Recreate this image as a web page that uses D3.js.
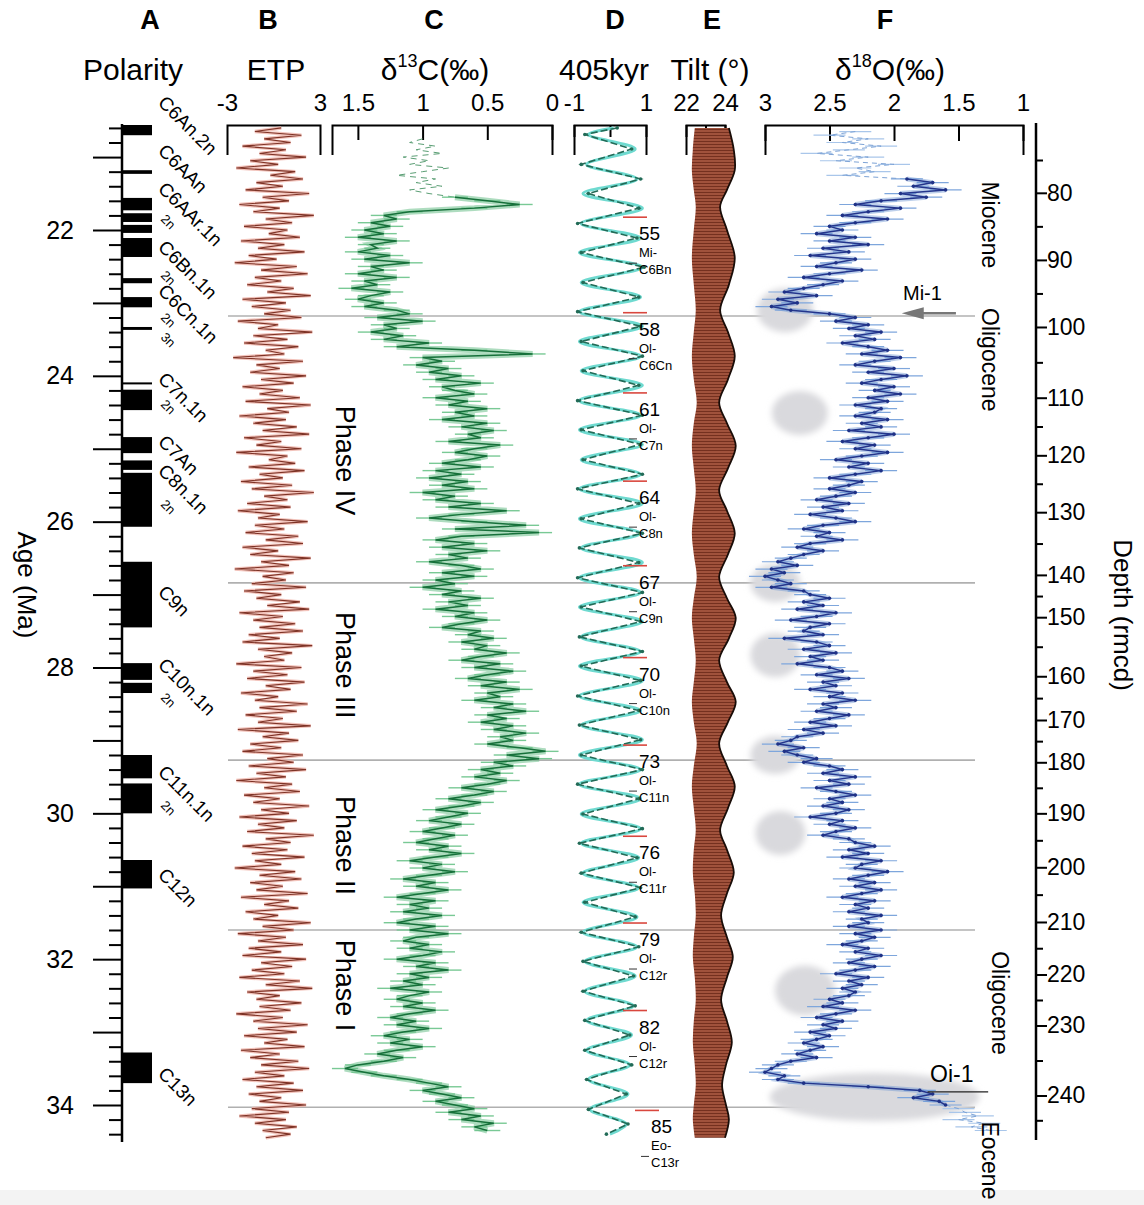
<!DOCTYPE html>
<html>
<head>
<meta charset="utf-8">
<script src="https://cdnjs.cloudflare.com/ajax/libs/d3/7.8.5/d3.min.js"></script>
<style>
body { margin: 0; background: #fff; }
svg text { font-family: "Liberation Sans", Arial, Helvetica, sans-serif; }
</style>
</head>
<body>
<div id="chart"></div>
<script>
// ---- data ----

// A: normal polarity intervals (Ma)
var polTop  = [20.56, 21.18, 21.56, 21.77, 21.93, 22.11, 22.66, 22.92, 23.33, 24.09, 24.19, 24.84, 25.16, 25.33, 26.55, 27.94, 28.21, 29.20, 29.59, 30.64, 33.28];
var polBase = [20.70, 21.23, 21.73, 21.89, 22.04, 22.37, 22.73, 23.06, 23.37, 24.11, 24.47, 25.06, 25.29, 26.07, 27.45, 28.17, 28.35, 29.52, 30.00, 31.03, 33.70];
var polLabels = ["C6An.2n", "C6AAn", "C6AAr.1n", "2n", "C6Bn.1n", "2n", "C6Cn.1n", "2n", "3n", "C7n.1n", "2n", "C7An", "C8n.1n", "2n", "C9n", "C10n.1n", "2n", "C11n.1n", "2n", "C12n", "C13n"];
var polLabelAges = [20.27, 20.93, 21.45, 21.86, 22.25, 22.63, 22.85, 23.21, 23.48, 24.06, 24.40, 24.92, 25.32, 25.77, 26.98, 27.98, 28.42, 29.45, 29.90, 30.86, 33.59];

// B: ETP, every 0.05 Ma from 20.60
var etpStart = 20.60, etpStep = 0.05;
var etp = [
  0.5,-1.2,1.8,-0.6,1.1,-2.0,0.8,-0.9,2.1,-1.5,0.3,-2.4,1.4,-0.2,1.9,-1.1,0.6,-1.8,2.3,-0.7,
  1.0,-2.2,0.4,-1.3,2.6,-0.5,1.2,-1.9,0.9,-0.3,1.7,-2.1,0.7,-1.0,2.0,-1.6,0.2,-2.5,1.5,-0.8,
  2.2,-1.2,0.5,-1.7,1.3,-0.4,2.4,-2.0,0.8,-1.4,1.1,-0.6,1.8,-2.3,0.3,-1.0,2.5,-1.3,0.9,-1.9,
  1.6,-0.5,0.7,-2.6,1.9,-1.1,0.4,-1.5,2.1,-0.8,1.3,-2.0,0.6,-0.9,1.7,-1.8,2.4,-0.4,1.0,-2.2,
  0.8,-1.3,1.5,-0.7,2.3,-1.9,0.5,-1.1,1.8,-2.4,0.9,-0.3,1.4,-1.6,2.0,-0.9,0.6,-2.1,1.2,-1.4,
  2.6,-0.6,0.9,-1.7,1.1,-2.3,0.4,-1.0,2.2,-1.2,0.7,-1.8,1.6,-0.5,1.9,-2.0,0.3,-1.5,2.4,-0.8,
  1.0,-2.5,1.3,-0.7,0.8,-1.4,2.1,-1.9,0.5,-1.1,1.7,-0.4,2.3,-2.2,0.6,-1.3,1.4,-0.9,1.9,-1.6,
  0.4,-2.0,2.5,-1.0,1.2,-0.6,0.7,-2.4,1.8,-1.3,0.9,-1.7,2.0,-0.5,1.1,-2.1,0.3,-1.2,2.2,-0.9,
  1.5,-1.8,0.6,-1.0,2.4,-2.3,1.0,-0.7,1.6,-1.5,0.5,-2.0,1.9,-0.4,1.3,-1.6,2.1,-1.1,0.8,-2.4,
  1.2,-0.6,1.7,-1.9,0.4,-1.3,2.3,-0.8,1.0,-2.2,1.5,-1.0,0.7,-1.7,2.6,-0.5,1.1,-2.0,0.9,-1.4,
  2.0,-1.2,0.5,-2.5,1.4,-0.9,1.8,-1.5,0.6,-1.1,2.2,-2.1,1.0,-0.6,1.6,-1.8,0.3,-1.3,2.4,-0.7,
  1.3,-2.3,0.8,-1.0,1.9,-1.6,0.5,-2.0,2.1,-0.8,1.2,-1.4,0.7,-2.2,1.7,-0.5,2.5,-1.7,0.4,-1.1,
  1.8,-0.9,1.1,-2.4,0.6,-1.3,2.2,-1.0,1.5,-1.9,0.9,-0.6,2.0,-2.1,0.4,-1.5,1.6,-0.8,2.3,-1.2,
  0.7,-2.0,1.3,-1.1,1.9,-1.6,0.5,-0.9,2.1,-1.4,1.0,-2.2,0.8,-1.2,1.5,-0.7,1.1,-0.5
];

// C: benthic d13C (permil), every 0.05 Ma from 20.75
var d13cStart = 20.75, d13cStep = 0.05;
var d13c = [
  1.0,1.1,0.9,1.05,0.85,1.15,0.95,1.1,0.8,1.0,1.2,0.9,1.05,0.85,1.1,0.95,0.75,0.5,0.25,0.6,
  1.1,1.3,1.2,1.4,1.25,1.45,1.3,1.5,1.2,1.4,1.35,1.5,1.25,1.45,1.1,1.4,1.3,1.5,1.2,1.45,
  1.35,1.55,1.25,1.4,1.5,1.3,1.45,1.2,1.1,1.35,1.0,1.3,1.2,1.4,1.15,1.3,0.95,1.2,0.6,0.15,
  1.0,0.85,1.05,0.8,0.95,0.7,0.9,0.55,0.85,0.75,0.6,0.9,0.65,0.8,0.5,0.75,0.6,0.85,0.5,0.7,
  0.45,0.65,0.55,0.8,0.4,0.6,0.75,0.5,0.65,0.85,0.55,0.9,0.7,0.95,0.65,0.85,0.6,1.0,0.75,0.9,
  0.55,0.8,0.35,0.7,0.95,0.6,0.2,0.75,0.1,0.7,0.9,0.6,0.85,0.5,0.8,0.65,0.95,0.7,0.55,0.85,
  0.6,0.9,0.75,1.0,0.7,0.85,0.55,0.8,0.65,0.9,0.6,0.75,0.5,0.7,0.85,0.55,0.65,0.45,0.7,0.5,
  0.6,0.35,0.55,0.7,0.4,0.6,0.3,0.5,0.65,0.35,0.55,0.25,0.5,0.4,0.6,0.3,0.45,0.2,0.5,0.35,
  0.55,0.3,0.45,0.2,0.4,0.3,0.5,0.25,0.05,0.35,0.1,0.45,0.3,0.55,0.4,0.6,0.35,0.5,0.7,0.45,
  0.6,0.8,0.55,0.7,0.9,0.65,0.8,0.95,0.7,0.85,1.0,0.75,0.9,1.05,0.8,0.95,0.7,0.9,1.1,0.85,
  1.0,0.75,0.95,1.15,0.9,1.05,0.8,1.0,1.2,0.9,1.1,0.95,1.15,0.85,1.05,1.2,0.9,1.1,0.8,1.05,
  1.15,0.95,1.1,0.85,1.0,1.2,0.9,1.05,0.8,1.1,0.95,1.15,1.0,1.25,0.95,1.1,1.2,1.0,1.15,0.9,
  1.1,1.25,1.05,1.2,0.95,1.15,1.3,1.1,1.25,1.0,1.2,1.35,1.15,1.3,1.5,1.6,1.45,1.3,1.1,0.95,
  0.8,1.0,0.85,0.7,0.9,0.75,0.6,0.8,0.55,0.7,0.45,0.6,0.5
];

// D: 405-kyr band, turning points (age Ma, filter, data)
var eccAge = [20.60,20.69,20.89,21.10,21.30,21.50,21.70,21.91,22.11,22.31,22.51,22.72,22.92,23.12,23.32,23.53,23.73,23.93,24.13,24.34,
  24.54,24.74,24.94,25.15,25.35,25.55,25.75,25.96,26.16,26.36,26.56,26.77,26.97,27.17,27.37,27.58,27.78,27.98,28.18,28.39,
  28.59,28.79,28.99,29.20,29.40,29.60,29.80,30.01,30.21,30.41,30.61,30.82,31.02,31.22,31.42,31.63,31.83,32.03,32.23,32.44,
  32.64,32.84,33.04,33.25,33.45,33.65,33.85,34.06,34.26,34.40];
var eccFilter = [0.1,-0.6,0.7,-0.65,0.75,-0.75,0.9,-0.8,0.85,-0.85,0.9,-0.8,0.85,-0.85,0.9,-0.85,0.85,-0.8,0.9,-0.85,
  0.85,-0.85,0.9,-0.8,0.85,-0.85,0.9,-0.85,0.85,-0.8,0.9,-0.85,0.85,-0.85,0.9,-0.8,0.85,-0.85,0.9,-0.85,
  0.85,-0.8,0.9,-0.85,0.85,-0.85,0.85,-0.8,0.85,-0.8,0.8,-0.75,0.8,-0.75,0.75,-0.75,0.75,-0.7,0.7,-0.7,
  0.65,-0.65,0.6,-0.65,0.55,-0.6,0.5,-0.55,0.45,0.0];
var eccData = [0.2,-0.7,0.6,-0.8,0.85,-0.6,0.8,-0.9,0.75,-0.8,0.95,-0.75,0.8,-0.9,0.85,-0.8,0.9,-0.75,0.8,-0.9,
  0.9,-0.8,0.85,-0.75,0.9,-0.9,0.8,-0.8,0.9,-0.85,0.8,-0.9,0.9,-0.8,0.85,-0.85,0.9,-0.8,0.85,-0.9,
  0.8,-0.85,0.85,-0.8,0.9,-0.9,0.8,-0.75,0.9,-0.85,0.75,-0.8,0.85,-0.7,0.7,-0.8,0.8,-0.75,0.65,-0.75,
  0.7,-0.7,0.55,-0.7,0.6,-0.65,0.45,-0.6,0.5,-0.1];
var cycleNums = [55, 58, 61, 64, 67, 70, 73, 76, 79, 82, 85];
var cycleAges = [22.03, 23.34, 24.44, 25.65, 26.81, 28.07, 29.27, 30.52, 31.71, 32.91, 34.28];
var cyclePre = ["Mi-", "Ol-", "Ol-", "Ol-", "Ol-", "Ol-", "Ol-", "Ol-", "Ol-", "Ol-", "Eo-"];
var cycleChron = ["C6Bn", "C6Cn", "C7n", "C8n", "C9n", "C10n", "C11n", "C11r", "C12r", "C12r", "C13r"];

// E: obliquity band (age, minimum, envelope maximum in degrees)
var tiltAge = [20.6,20.9,21.18,21.45,21.68,22.0,22.38,22.75,23.10,23.4,23.73,24.05,24.37,24.65,24.96,25.27,25.57,25.85,26.16,26.45,
  26.76,27.05,27.32,27.6,27.90,28.2,28.47,28.75,29.04,29.35,29.63,29.93,30.23,30.5,30.81,31.1,31.40,31.7,31.97,32.25,
  32.56,32.85,33.14,33.45,33.73,34.0,34.2,34.45];
var tiltMax = [24.2,24.45,24.5,24.1,23.75,24.1,24.5,24.2,23.75,24.15,24.5,24.15,23.7,24.1,24.55,24.15,23.7,24.1,24.5,24.15,
  23.7,24.1,24.55,24.2,23.7,24.1,24.55,24.15,23.7,24.1,24.5,24.15,23.75,24.1,24.45,24.1,23.8,24.1,24.4,24.1,
  23.8,24.1,24.35,24.05,23.85,24.05,24.2,24.0];
var tiltMin = [22.45,22.35,22.3,22.4,22.5,22.4,22.3,22.4,22.5,22.4,22.3,22.4,22.55,22.4,22.3,22.4,22.5,22.4,22.3,22.4,
  22.55,22.4,22.3,22.4,22.5,22.4,22.3,22.4,22.55,22.4,22.3,22.4,22.5,22.4,22.35,22.45,22.5,22.4,22.35,22.45,
  22.5,22.4,22.35,22.45,22.5,22.4,22.35,22.45];

// F: benthic d18O (permil), every 0.05 Ma from 20.65
var d18oStart = 20.65, d18oStep = 0.05;
var d18o = [
  2.3,2.5,2.2,2.4,2.1,2.35,2.6,2.2,2.45,2.0,2.3,2.15,2.4,
  1.9,1.7,1.85,1.6,1.95,1.75,
  2.1,2.3,1.95,2.2,2.4,2.05,2.3,2.5,
  2.4,2.6,2.3,2.5,2.2,2.55,2.35,2.65,2.3,2.45,2.6,2.25,2.5,2.7,2.4,2.55,
  2.7,2.85,2.6,2.9,2.75,2.95,2.8,
  2.5,2.3,2.45,2.2,2.35,2.1,2.3,2.15,2.4,
  2.2,2.05,2.25,1.95,2.15,2.3,2.0,2.2,1.9,2.1,2.25,2.0,2.15,1.95,2.2,2.05,2.3,2.1,
  2.15,2.3,2.05,2.25,2.1,2.35,2.0,2.2,2.4,2.15,2.3,2.05,2.25,2.45,2.2,2.35,2.1,2.3,2.5,2.25,
  2.35,2.5,2.3,2.45,2.6,2.35,2.55,2.4,2.65,2.45,2.3,2.55,2.7,2.5,2.6,2.4,2.65,2.75,2.55,2.7,
  2.8,2.9,2.75,2.95,2.85,3.0,2.9,2.8,2.95,2.7,
  2.65,2.5,2.7,2.55,2.75,2.45,2.6,2.8,2.5,2.65,2.7,2.55,2.85,2.6,2.5,2.7,2.45,2.65,2.55,2.75,
  2.5,2.4,2.6,2.35,2.55,2.45,2.65,2.4,2.5,2.3,2.55,2.45,2.6,2.35,2.5,2.65,2.45,2.7,2.55,2.75,
  2.8,2.9,2.7,2.85,2.75,2.6,2.7,2.5,
  2.4,2.55,2.3,2.5,2.35,2.6,2.45,2.3,2.5,2.4,2.55,2.35,2.45,2.65,2.4,2.5,2.3,2.45,2.55,2.35,
  2.3,2.15,2.35,2.2,2.4,2.1,2.25,2.3,2.05,2.2,2.35,2.15,2.3,2.1,2.25,2.4,2.15,2.3,2.2,2.35,2.1,2.25,
  2.2,2.35,2.1,2.3,2.15,2.25,2.4,2.2,2.3,2.1,2.25,2.35,2.15,2.3,2.45,2.2,2.35,2.25,2.4,2.3,
  2.35,2.5,2.4,2.55,2.3,2.45,2.6,2.4,2.55,2.45,2.65,2.5,2.6,2.7,2.55,2.65,2.75,2.6,
  2.8,2.9,2.95,3.0,2.85,2.9,2.7,
  2.2,1.8,1.7,1.85,1.65,
  1.6,1.5,1.45,1.35,1.5,1.3,1.4,1.25
];
// grey ellipses (age, d18O)
var blobAge = [23.10, 24.51, 26.84, 27.83, 29.20, 30.27, 32.43, 33.89];
var blobVal = [2.845, 2.73, 2.92, 2.92, 2.92, 2.88, 2.69, 2.15];

// age-depth tie points for the right axis
var depthTie = [70, 80, 90, 100, 110, 120, 130, 140, 150, 160, 170, 180, 190, 200, 210, 220, 230, 240, 250];
var depthAge = [20.59, 21.49, 22.41, 23.33, 24.30, 25.09, 25.87, 26.73, 27.31, 28.12, 28.72, 29.30, 30.00, 30.74, 31.49, 32.21, 32.91, 33.87, 34.55];

var phaseLines = [23.18, 26.84, 29.27, 31.60, 34.03];
var phaseNames = ["Phase IV", "Phase III", "Phase II", "Phase I"];
var phaseMid = [25.16, 27.97, 30.44, 32.36];

// ---- drawing ----
var width = 1144, height = 1205;
var svg = d3.select("#chart").append("svg")
    .attr("width", width)
    .attr("height", height);
svg.append("rect").attr("width", width).attr("height", height).attr("fill", "#fff");
svg.append("rect").attr("y", 1190).attr("width", width).attr("height", 15).attr("fill", "#f3f3f3");

var defs = svg.append("defs");
defs.append("filter").attr("id", "soft")
    .attr("x", "-30%").attr("y", "-30%").attr("width", "160%").attr("height", "160%")
    .append("feGaussianBlur").attr("stdDeviation", 3);
var pat = defs.append("pattern").attr("id", "stripes")
    .attr("width", 10).attr("height", 3).attr("patternUnits", "userSpaceOnUse");
pat.append("rect").attr("width", 10).attr("height", 3).attr("fill", "#a0523c");
pat.append("rect").attr("width", 10).attr("height", 1).attr("fill", "#74301f");

var age = d3.scaleLinear().domain([22, 34]).range([230, 1105]);
var xEtp = d3.scaleLinear().domain([-3, 3]).range([227, 320]);
var xC = d3.scaleLinear().domain([1.7, 0]).range([332, 552]);
var xEcc = d3.scaleLinear().domain([-1, 1]).range([574, 646]);
var xTilt = d3.scaleLinear().domain([22, 24]).range([686, 725]);
var xO = d3.scaleLinear().domain([3, 1]).range([765, 1023]);
var depth = d3.scaleLinear().domain(depthTie).range(depthAge.map(function(a) { return age(a); }));

// series as {a: age, v: value}
var c13Pts = d13c.map(function(v, i) { return { a: d13cStart + i * d13cStep, v: v }; });
var o18Pts = d18o.map(function(v, i) { return { a: d18oStart + i * d18oStep, v: v }; });
var etpPts = etp.map(function(v, i) { return { a: etpStart + i * etpStep, v: v }; });

// header
var heads = [["A", 150], ["B", 268], ["C", 434], ["D", 615], ["E", 712], ["F", 885]];
svg.selectAll("text.head")
    .data(heads)
    .enter().append("text")
    .attr("class", "head")
    .attr("x", function(d) { return d[1]; })
    .attr("y", 29)
    .attr("text-anchor", "middle")
    .style("font-size", "27px")
    .style("font-weight", "bold")
    .text(function(d) { return d[0]; });

function title(x, parts) {
    var t = svg.append("text").attr("x", x).attr("y", 80)
        .attr("text-anchor", "middle").style("font-size", "30px");
    parts.forEach(function(p) {
        var s = t.append("tspan").text(p[0]);
        if (p[1]) s.attr("dy", p[1]);
        if (p[2]) s.style("font-size", p[2]);
    });
}
title(133, [["Polarity"]]);
title(276, [["ETP"]]);
title(435, [["δ"], ["13", -13, "18px"], ["C(‰)", 13]]);
title(604, [["405kyr"]]);
title(710, [["Tilt (°)"]]);
title(890, [["δ"], ["18", -13, "18px"], ["O(‰)", 13]]);

// top axes
function topAxis(scale, ticks, labels, inner) {
    var ax = d3.axisTop(scale)
        .tickValues(ticks)
        .tickSizeInner(-inner)
        .tickSizeOuter(-30)
        .tickFormat(function(d) { return labels.indexOf(d) >= 0 ? d : ""; });
    var g = svg.append("g").attr("transform", "translate(0,125)").call(ax);
    g.select(".domain").attr("stroke-width", 2);
    g.selectAll(".tick line").attr("stroke-width", 2);
    g.selectAll(".tick text")
        .attr("y", -14).attr("dy", 0)
        .style("font-size", "24px")
        .style("font-family", "'Liberation Sans', Arial, sans-serif");
    return g;
}
topAxis(xEtp, [-3, 3], [-3, 3], 0);
topAxis(xC, [1.5, 1, 0.5, 0], [1.5, 1, 0.5, 0], 15);
topAxis(xEcc, [-1, 0, 1], [-1, 1], 12);
topAxis(xTilt, [22, 23, 24], [22, 24], 12);
topAxis(xO, [3, 2.5, 2, 1.5, 1], [3, 2.5, 2, 1.5, 1], 16);

// phase boundaries and grey event ellipses
svg.selectAll("line.phase")
    .data(phaseLines)
    .enter().append("line")
    .attr("class", "phase")
    .attr("x1", 228).attr("x2", 975)
    .attr("y1", function(d) { return age(d); })
    .attr("y2", function(d) { return age(d); })
    .attr("stroke", "#b0b0b0")
    .attr("stroke-width", 1.6);

var blobR = [[28, 22], [28, 22], [25, 19], [25, 22], [25, 19], [25, 22], [30, 25], [105, 24]];
svg.append("g").attr("filter", "url(#soft)")
    .selectAll("ellipse")
    .data(blobAge)
    .enter().append("ellipse")
    .attr("cx", function(d, i) { return xO(blobVal[i]); })
    .attr("cy", function(d) { return age(d); })
    .attr("rx", function(d, i) { return blobR[i][0]; })
    .attr("ry", function(d, i) { return blobR[i][1]; })
    .attr("fill", "#d9d9dd");

// A: age axis + polarity
var ageAxis = d3.axisLeft(age)
    .tickValues(d3.range(103, 173).map(function(i) { return i / 5; }))
    .tickSize(13)
    .tickFormat(function(d) {
        var r = Math.round(d);
        return (Math.abs(d - r) < 1e-6 && r % 2 === 0) ? r : "";
    });
var ga = svg.append("g").attr("transform", "translate(122,0)").call(ageAxis);
ga.select(".domain").remove();
ga.selectAll(".tick line").attr("stroke-width", 2)
    .filter(function(d) { return Math.abs(d - Math.round(d)) < 1e-6; })
    .attr("x2", -29);
ga.selectAll(".tick text")
    .attr("x", -48)
    .style("font-size", "25px")
    .style("font-family", "'Liberation Sans', Arial, sans-serif");
svg.append("line").attr("x1", 122).attr("x2", 122)
    .attr("y1", 124).attr("y2", 1142)
    .attr("stroke", "#000").attr("stroke-width", 2.5);

svg.selectAll("rect.pol")
    .data(polTop)
    .enter().append("rect")
    .attr("class", "pol")
    .attr("x", 123).attr("width", 29)
    .attr("y", function(d) { return age(d); })
    .attr("height", function(d, i) { return Math.max(2, age(polBase[i]) - age(d)); })
    .attr("fill", "#000");

svg.selectAll("text.pol")
    .data(polLabels)
    .enter().append("text")
    .attr("class", "pol")
    .attr("transform", function(d, i) {
        var small = d.length <= 2;
        return "translate(" + (small ? 160 : 157) + "," + age(polLabelAges[i]) + ") rotate(45)";
    })
    .style("font-size", function(d) { return d.length <= 2 ? "13px" : "19px"; })
    .text(function(d) { return d; });

svg.append("text")
    .attr("transform", "translate(18,585) rotate(90)")
    .attr("text-anchor", "middle")
    .style("font-size", "26px")
    .text("Age (Ma)");

// B: ETP
var etpLine = d3.line()
    .x(function(d) { return xEtp(d.v); })
    .y(function(d) { return age(d.a); });
svg.append("path").datum(etpPts).attr("d", etpLine)
    .attr("fill", "none").attr("stroke", "#efb4aa").attr("stroke-width", 3.5).attr("opacity", 0.8);
svg.append("path").datum(etpPts).attr("d", etpLine)
    .attr("fill", "none").attr("stroke", "#7e3326").attr("stroke-width", 1.1);

// C: d13C
var c13Main = c13Pts.filter(function(d) { return d.a > 21.52; });
var c13Top = c13Pts.filter(function(d) { return d.a <= 21.56; });
var cLine = d3.line()
    .x(function(d) { return xC(d.v); })
    .y(function(d) { return age(d.a); });
svg.append("path").datum(c13Top).attr("d", cLine)
    .attr("fill", "none").attr("stroke", "#5a9e74").attr("stroke-width", 1)
    .attr("stroke-dasharray", "6,5");
svg.append("g").selectAll("line")
    .data(c13Main)
    .enter().append("line")
    .attr("x1", function(d) { return xC(d.v) - 13; })
    .attr("x2", function(d) { return xC(d.v) + 13; })
    .attr("y1", function(d) { return age(d.a); })
    .attr("y2", function(d) { return age(d.a); })
    .attr("stroke", "#79c995").attr("stroke-width", 1.4);
svg.append("path").datum(c13Main).attr("d", cLine)
    .attr("fill", "none").attr("stroke", "#6cc08a").attr("stroke-width", 6).attr("opacity", 0.55);
svg.append("path").datum(c13Main).attr("d", cLine)
    .attr("fill", "none").attr("stroke", "#16703a").attr("stroke-width", 1.5);

svg.selectAll("text.phasename")
    .data(phaseNames)
    .enter().append("text")
    .attr("class", "phasename")
    .attr("transform", function(d, i) { return "translate(336," + age(phaseMid[i]) + ") rotate(90)"; })
    .attr("text-anchor", "middle")
    .style("font-size", "27px")
    .text(function(d) { return d; });

// D: 405 kyr
var eccFilterLine = d3.line()
    .curve(d3.curveCatmullRom)
    .x(function(d) { return xEcc(d); })
    .y(function(d, i) { return age(eccAge[i]); });
svg.append("path").datum(eccFilter).attr("d", eccFilterLine)
    .attr("fill", "none").attr("stroke", "#6fdad0").attr("stroke-width", 3);
var eccDataLine = d3.line()
    .x(function(d) { return xEcc(d); })
    .y(function(d, i) { return age(eccAge[i]); });
svg.append("path").datum(eccData).attr("d", eccDataLine)
    .attr("fill", "none").attr("stroke", "#226b57").attr("stroke-width", 1.6)
    .attr("stroke-dasharray", "7,3");
svg.append("g").selectAll("circle")
    .data(eccData)
    .enter().append("circle")
    .attr("cx", function(d) { return xEcc(d); })
    .attr("cy", function(d, i) { return age(eccAge[i]); })
    .attr("r", 1.8)
    .attr("fill", "#226b57");

var cyc = svg.append("g").selectAll("g")
    .data(cycleNums)
    .enter().append("g")
    .attr("transform", function(d, i) {
        return "translate(" + (d === 85 ? 651 : 639) + "," + age(cycleAges[i]) + ")";
    });
cyc.append("line").attr("x1", -16).attr("x2", 8).attr("y1", -15).attr("y2", -15)
    .attr("stroke", "#d9473e").attr("stroke-width", 1.6);
cyc.append("line").attr("x1", -10).attr("x2", -2).attr("y1", 31).attr("y2", 31)
    .attr("stroke", "#333").attr("stroke-width", 1);
cyc.append("text").attr("y", 8).style("font-size", "19px").text(function(d) { return d; });
cyc.append("text").attr("y", 25).style("font-size", "13px").text(function(d, i) { return cyclePre[i]; });
cyc.append("text").attr("y", 42).style("font-size", "13px").text(function(d, i) { return cycleChron[i]; });

// E: tilt
var tiltArea = d3.area()
    .curve(d3.curveCatmullRom)
    .y(function(d, i) { return age(tiltAge[i]); })
    .x0(function(d, i) { return xTilt(tiltMin[i]); })
    .x1(function(d) { return xTilt(d); });
svg.append("path").datum(tiltMax).attr("d", tiltArea).attr("fill", "url(#stripes)");
var tiltEnv = d3.line()
    .curve(d3.curveCatmullRom)
    .x(function(d) { return xTilt(d); })
    .y(function(d, i) { return age(tiltAge[i]); });
svg.append("path").datum(tiltMax).attr("d", tiltEnv)
    .attr("fill", "none").attr("stroke", "#1a0d08").attr("stroke-width", 1.8);

// F: d18O
var o18Main = o18Pts.filter(function(d) { return d.a > 21.27 && d.a < 34.02; });
var o18Faint = o18Pts.filter(function(d) { return d.a < 21.32 || d.a > 33.98; });
svg.append("g").selectAll("line")
    .data(o18Pts)
    .enter().append("line")
    .attr("x1", function(d) { return xO(d.v) - 16; })
    .attr("x2", function(d) { return xO(d.v) + 16; })
    .attr("y1", function(d) { return age(d.a); })
    .attr("y2", function(d) { return age(d.a); })
    .attr("stroke", function(d) { return d.a < 21.28 || d.a > 34.0 ? "#a9c6ea" : "#7ea6dc"; })
    .attr("stroke-width", 1.2);
var oLine = d3.line()
    .x(function(d) { return xO(d.v); })
    .y(function(d) { return age(d.a); });
svg.append("path").datum(o18Faint.filter(function(d) { return d.a < 22; })).attr("d", oLine)
    .attr("fill", "none").attr("stroke", "#7da3d6").attr("stroke-width", 1)
    .attr("stroke-dasharray", "5,4");
svg.append("path").datum(o18Faint.filter(function(d) { return d.a > 22; })).attr("d", oLine)
    .attr("fill", "none").attr("stroke", "#7da3d6").attr("stroke-width", 1)
    .attr("stroke-dasharray", "5,4");
svg.append("path").datum(o18Main).attr("d", oLine)
    .attr("fill", "none").attr("stroke", "#6f96d2").attr("stroke-width", 5).attr("opacity", 0.45);
svg.append("path").datum(o18Main).attr("d", oLine)
    .attr("fill", "none").attr("stroke", "#23358c").attr("stroke-width", 1.5);
svg.append("g").selectAll("circle")
    .data(o18Main)
    .enter().append("circle")
    .attr("cx", function(d) { return xO(d.v); })
    .attr("cy", function(d) { return age(d.a); })
    .attr("r", 1.8)
    .attr("fill", "#1f3186");

// event labels
svg.append("text").attr("x", xO(1.93)).attr("y", age(22.96))
    .style("font-size", "20px").text("Mi-1");
svg.append("line").attr("x1", xO(1.52)).attr("x2", xO(1.86))
    .attr("y1", age(23.14)).attr("y2", age(23.14))
    .attr("stroke", "#777").attr("stroke-width", 2.5);
svg.append("path")
    .attr("d", "M" + xO(1.94) + "," + age(23.14) + "l22,-6l0,12z")
    .attr("fill", "#777");
svg.append("text").attr("x", xO(1.72)).attr("y", age(33.69))
    .style("font-size", "23px").text("Oi-1");
svg.append("line").attr("x1", xO(1.74)).attr("x2", xO(1.27))
    .attr("y1", age(33.82)).attr("y2", age(33.82))
    .attr("stroke", "#222").attr("stroke-width", 1.2);

// epochs
var epochs = [["Miocene", 21.93, 990], ["Oligocene", 23.78, 990], ["Oligocene", 32.60, 1000], ["Eocene", 34.76, 990]];
svg.selectAll("text.epoch")
    .data(epochs)
    .enter().append("text")
    .attr("class", "epoch")
    .attr("transform", function(d) { return "translate(" + (d[2] - 8) + "," + age(d[1]) + ") rotate(90)"; })
    .attr("text-anchor", "middle")
    .style("font-size", "23px")
    .text(function(d) { return d[0]; });

// depth axis
var depthAxis = d3.axisRight(depth)
    .tickValues(d3.range(75, 246, 5))
    .tickSize(7)
    .tickFormat(function(d) { return (d % 10 === 0 && d >= 80 && d <= 240) ? d : ""; });
var gd = svg.append("g").attr("transform", "translate(1036,0)").call(depthAxis);
gd.select(".domain").remove();
gd.selectAll(".tick line").attr("stroke-width", 2)
    .filter(function(d) { return d % 10 === 0; })
    .attr("x2", 11);
gd.selectAll(".tick text")
    .attr("x", 11)
    .style("font-size", "23px")
    .style("font-family", "'Liberation Sans', Arial, sans-serif");
svg.append("line").attr("x1", 1036).attr("x2", 1036)
    .attr("y1", 123).attr("y2", 1140)
    .attr("stroke", "#000").attr("stroke-width", 2.5);
svg.append("text")
    .attr("transform", "translate(1114,615) rotate(90)")
    .attr("text-anchor", "middle")
    .style("font-size", "26px")
    .text("Depth (rmcd)");
</script>
</body>
</html>
